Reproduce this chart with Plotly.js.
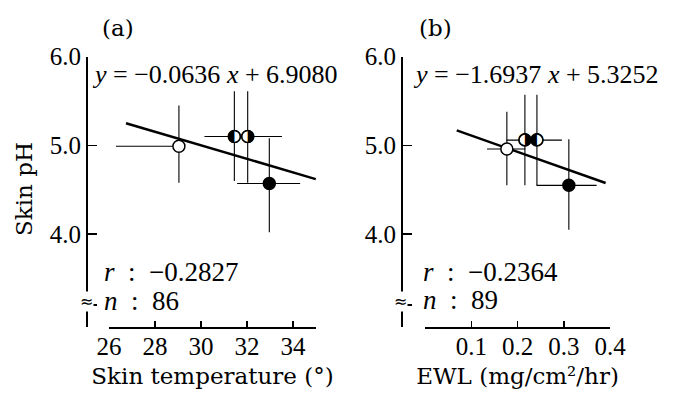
<!DOCTYPE html>
<html>
<head>
<meta charset="utf-8">
<script src="https://cdn.plot.ly/plotly-3.0.1.min.js"></script>
<style>html,body{margin:0;padding:0;background:#fff;}#chart{width:678px;height:394px;}</style>
</head>
<body>
<div id="chart"></div>
<script>
// ---- Panel (a): Skin temperature vs Skin pH ----
const tempX = [29.04, 31.45, 32.03, 32.97];
const tempY = [4.99, 5.10, 5.10, 4.57];
const tempXPlus = [0, 0, 1.49, 1.34];
const tempXMinus = [2.74, 1.30, 0, 1.40];
const tempYPlus = [0.46, 0.51, 0.51, 0.51];
const tempYMinus = [0.41, 0.50, 0.52, 0.55];
const tempFitX = [26.74, 34.99];
const tempFitY = [5.25, 4.62];
const tempTicks = [26, 28, 30, 32, 34, 35];
const tempTickText = ['26', '28', '30', '32', '34', ''];

// ---- Panel (b): EWL vs Skin pH ----
const ewlX = [0.177, 0.216, 0.242, 0.311];
const ewlY = [4.96, 5.06, 5.06, 4.55];
const ewlXPlus = [0.040, 0, 0.054, 0.060];
const ewlXMinus = [0.043, 0.040, 0, 0.070];
const ewlYPlus = [0.42, 0.51, 0.51, 0.52];
const ewlYMinus = [0.41, 0.51, 0.51, 0.50];
const ewlFitX = [0.0686, 0.3906];
const ewlFitY = [5.169, 4.576];
const ewlTicks = [0, 0.1, 0.2, 0.3, 0.4];
const ewlTickText = ['', '0.1', '0.2', '0.3', '0.4'];

// marker fills: open, half, half, filled
const fillColors = ['white', 'white', 'white', 'black'];
const halfGlyphsA = ['\u25D0', '\u25D1'];
const halfGlyphsB = ['\u25D1', '\u25D0'];

const pHTicks = [2.953, 3.2, 4, 5, 6];
const pHTickText = ['', '', '4.0', '5.0', '6.0'];

const W = 678, H = 394;
const px = v => v / W;
const py = v => 1 - v / H;

const numFont = '"Liberation Serif", "Times New Roman", Times, serif';
const wordFont = '"DejaVu Serif", serif';

function panelTraces(xs, ys, xp, xm, yp, ym, fx, fy, glyphs, xa, ya) {
  return [
    {x: fx, y: fy, mode: 'lines', line: {color: 'black', width: 2.5}, xaxis: xa, yaxis: ya, hoverinfo: 'skip'},
    {x: xs, y: ys, mode: 'markers', xaxis: xa, yaxis: ya,
     marker: {symbol: 'circle', size: 12, color: fillColors, line: {color: 'black', width: 1.5}},
     error_x: {type: 'data', symmetric: false, array: xp, arrayminus: xm, color: 'black', thickness: 1.1, width: 0},
     error_y: {type: 'data', symmetric: false, array: yp, arrayminus: ym, color: 'black', thickness: 1.1, width: 0}},
    {x: [xs[1], xs[2]], y: [ys[1], ys[2]], mode: 'text', text: glyphs, textposition: 'middle center',
     textfont: {family: '"DejaVu Sans"', size: 17, color: 'black'}, xaxis: xa, yaxis: ya, hoverinfo: 'skip'}
  ];
}

const data = [].concat(
  panelTraces(tempX, tempY, tempXPlus, tempXMinus, tempYPlus, tempYMinus, tempFitX, tempFitY, halfGlyphsA, 'x', 'y'),
  panelTraces(ewlX, ewlY, ewlXPlus, ewlXMinus, ewlYPlus, ewlYMinus, ewlFitX, ewlFitY, halfGlyphsB, 'x2', 'y2')
);

const yDomain = [py(327), py(56.7)];
function xAxis(domain, range, tv, tt, title, anchor) {
  return {domain: domain, range: range, anchor: anchor, showline: true, linewidth: 1.5, linecolor: 'black',
    ticks: 'inside', ticklen: 6, tickwidth: 1.5, tickcolor: 'black', tickvals: tv, ticktext: tt,
    ticklabelstandoff: -4,
    tickfont: {family: numFont, size: 25, color: 'black'}, showgrid: false, zeroline: false,
    title: {text: title, font: {family: wordFont, size: 23, color: 'black'}, standoff: 9}};
}
function yAxis(position) {
  return {domain: yDomain, range: [2.953, 6.0], anchor: 'free', position: position, showline: true,
    linewidth: 1.5, linecolor: 'black', ticks: 'inside', ticklen: 9, tickwidth: 1.5, tickcolor: 'black',
    tickvals: pHTicks, ticktext: pHTickText, tickfont: {family: numFont, size: 25, color: 'black'},
    showgrid: false, zeroline: false};
}

function ann(text, x, y, opts) {
  return Object.assign({text: text, x: px(x), y: py(y), xref: 'paper', yref: 'paper', showarrow: false,
    xanchor: 'left', yanchor: 'middle', font: {family: numFont, size: 26, color: 'black'}}, opts || {});
}
const nb = '\u00a0';
const breakOpts = {xanchor: 'center', bgcolor: 'white', borderpad: 0, font: {family: '"DejaVu Sans"', size: 16, color: 'black'}};
const layout = {
  width: W, height: H, margin: {l: 0, r: 0, t: 0, b: 0},
  paper_bgcolor: 'white', plot_bgcolor: 'rgba(0,0,0,0)', showlegend: false,
  xaxis: xAxis([px(109), px(316)], [26, 35], tempTicks, tempTickText, 'Skin temperature (°)', 'y'),
  yaxis: yAxis(px(86)),
  xaxis2: xAxis([px(425), px(610)], [0, 0.4], ewlTicks, ewlTickText, 'EWL (mg/cm²/hr)', 'y2'),
  yaxis2: yAxis(px(401)),
  annotations: [
    ann('(a)', 118, 28, {xanchor: 'center', font: {family: wordFont, size: 23, color: 'black'}}),
    ann('(b)', 435, 28, {xanchor: 'center', font: {family: wordFont, size: 23, color: 'black'}}),
    ann('<i>y</i>' + nb + '=' + nb + '−0.0636' + nb + '<i>x</i>' + nb + '+' + nb + '6.9080', 90, 75),
    ann('<i>y</i>' + nb + '=' + nb + '−1.6937' + nb + '<i>x</i>' + nb + '+' + nb + '5.3252', 411, 75),
    ann('<i>r</i>' + nb + nb + ':' + nb + nb + '−0.2827', 102, 272, {font: {family: numFont, size: 27, color: 'black'}}),
    ann('<i>n</i>' + nb + nb + ':' + nb + nb + '86', 102, 301, {font: {family: numFont, size: 27, color: 'black'}}),
    ann('<i>r</i>' + nb + nb + ':' + nb + nb + '−0.2364', 421, 272, {font: {family: numFont, size: 27, color: 'black'}}),
    ann('<i>n</i>' + nb + nb + ':' + nb + nb + '89', 421, 300, {font: {family: numFont, size: 27, color: 'black'}}),
    ann('Skin pH', 24, 189, {xanchor: 'center', textangle: -90, font: {family: wordFont, size: 23, color: 'black'}}),
    ann('≈', 86, 301, breakOpts),
    ann('≈', 401, 301, breakOpts)
  ]
};

Plotly.newPlot('chart', data, layout, {staticPlot: true, displayModeBar: false});
</script>
</body>
</html>
